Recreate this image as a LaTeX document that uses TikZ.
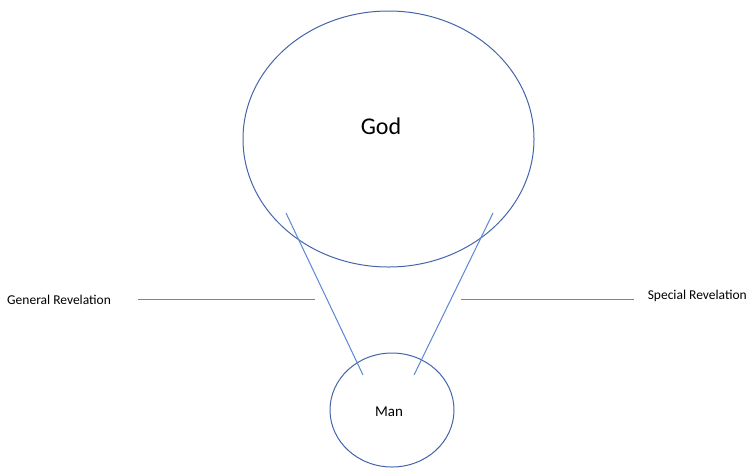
\documentclass[tikz,border=0pt]{standalone}
\usepackage{fontspec}
\setmainfont{Carlito}
\usetikzlibrary{shapes.geometric}
\definecolor{ellcol}{RGB}{68,100,170}
\definecolor{lincol}{RGB}{91,134,214}
\tikzset{
  oval/.style={draw=ellcol, line width=1pt, ellipse, inner sep=0pt},
  conn/.style={draw=lincol, line width=1pt},
  lbl/.style={inner sep=0pt, text=black}
}
\begin{document}
\begin{tikzpicture}[x=1pt,y=-1pt]
\useasboundingbox (0,0) rectangle (749,467);
\node[oval, minimum width=291pt, minimum height=256pt] (god) at (388.5,139) {};
\node[oval, minimum width=124pt, minimum height=114pt] (man) at (392,410) {};
\node[lbl, font=\fontsize{24}{28}\selectfont] (godtext) at (381,126) {God};
\node[lbl, font=\fontsize{15}{18}\selectfont] (mantext) at (389,412) {Man};
\node[lbl, font=\fontsize{13.5}{16}\selectfont, anchor=west] (gen) at (7,300) {General Revelation};
\node[lbl, font=\fontsize{13.5}{16}\selectfont, anchor=east] (spec) at (747,296) {Special Revelation};
\coordinate (l1) at (286,213);
\coordinate (l2) at (363,375);
\coordinate (r1) at (493,213);
\coordinate (r2) at (414,375);
\coordinate (gl1) at (138,299);
\coordinate (gl2) at (315,299);
\coordinate (sl1) at (461,299);
\coordinate (sl2) at (634,299);
\draw[conn] (l1) -- (l2);
\draw[conn] (r1) -- (r2);
\draw[conn] (gl1) -- (gl2);
\draw[conn] (sl1) -- (sl2);
\end{tikzpicture}
\end{document}
